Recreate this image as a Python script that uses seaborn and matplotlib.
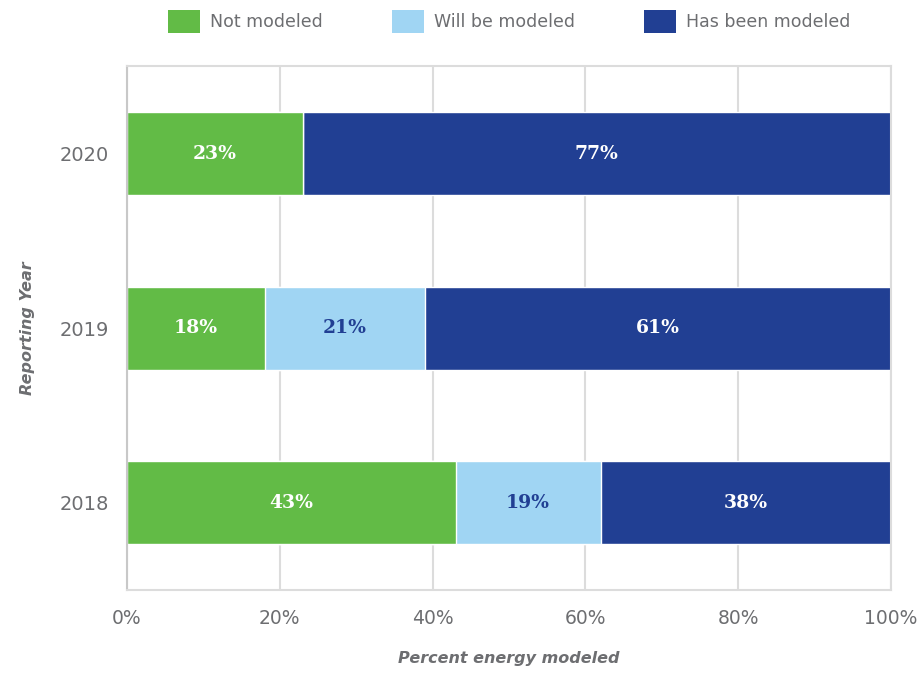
import numpy as np
import pandas as pd
import matplotlib
matplotlib.use("Agg")
import matplotlib.pyplot as plt
import seaborn as sns
from matplotlib.patches import Patch

# data (percent of energy)
years = ["2020", "2019", "2018"]
not_modeled = [23, 18, 43]
will_be_modeled = [0, 21, 19]
has_been_modeled = [77, 61, 38]

series_names = ["Not modeled", "Will be modeled", "Has been modeled"]
colors = ["#62bb46", "#a0d5f3", "#213f93"]
label_colors = ["white", "#213f93", "white"]

sns.set_style("white")
plt.rcParams['font.family'] = ['DejaVu Sans']

df = pd.DataFrame({
    "Year": years,
    "Not modeled": not_modeled,
    "Will be modeled": will_be_modeled,
    "Has been modeled": has_been_modeled,
})
vals = df[series_names].to_numpy(dtype=float)
cum = np.cumsum(vals, axis=1)

fig = plt.figure(figsize=(9.17, 6.73), dpi=100)
ax = fig.add_axes([0.1385, 0.1233, 0.8331, 0.7779])

# stacked bars: draw cumulative totals from the back to the front
for k in range(len(series_names) - 1, -1, -1):
    sns.barplot(x=cum[:, k], y=df["Year"], order=years, orient="h",
                color=colors[k], width=0.475, saturation=1, ax=ax,
                zorder=2)

# segment labels
for i in range(len(years)):
    for k in range(len(series_names)):
        v = vals[i, k]
        if v <= 0:
            continue
        left = cum[i, k] - v
        ax.text(left + v / 2, i, f"{v:.0f}%", ha="center", va="center",
                color=label_colors[k], fontsize=13.5, fontweight="heavy",
                family="DejaVu Serif", zorder=3)

ax.set_xlim(0, 100)
ax.set_ylim(2.5, -0.5)
ax.set_xticks([0, 20, 40, 60, 80, 100])
ax.set_xticklabels([f"{t}%" for t in [0, 20, 40, 60, 80, 100]])
ax.tick_params(axis="x", labelsize=13.5, colors="#6d6e71", length=0, pad=14)
ax.tick_params(axis="y", labelsize=14, colors="#6d6e71", length=0, pad=13)
ax.xaxis.grid(True, color="#dcdcdc", linewidth=1.5, zorder=0)
ax.set_axisbelow(True)
for side in ["top", "right", "bottom"]:
    ax.spines[side].set_color("#dcdcdc")
    ax.spines[side].set_linewidth(1.5)
ax.spines["left"].set_color("#c8c8c8")
ax.spines["left"].set_linewidth(1.5)

ax.set_xlabel("Percent energy modeled", fontsize=11.5, fontweight="bold",
              style="italic", color="#6d6e71", labelpad=16)
ax.set_ylabel("Reporting Year", fontsize=11.5, fontweight="bold",
              style="italic", color="#6d6e71", labelpad=18)

handles = [Patch(facecolor=c, edgecolor="none") for c in colors]
leg = ax.legend(handles, series_names, loc="center", bbox_to_anchor=(0.5, 1.086),
                ncol=3, frameon=False, fontsize=12.5, handlelength=1.84,
                handleheight=1.72, handletextpad=0.57, columnspacing=4.0)
for t in leg.get_texts():
    t.set_color("#6d6e71")

fig.savefig("out.png", dpi=100)
